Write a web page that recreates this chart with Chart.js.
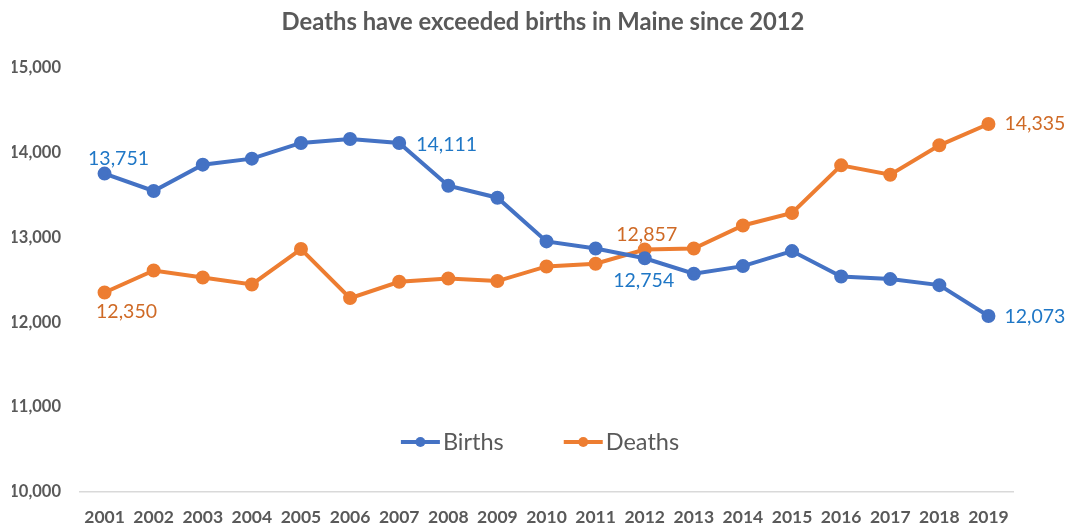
<!DOCTYPE html>
<html>
<head>
<meta charset="utf-8">
<script src="https://cdn.jsdelivr.net/npm/chart.js@4/dist/chart.umd.min.js"></script>
<style>
  html, body { margin: 0; padding: 0; background: #fff; overflow: hidden; }
  canvas { display: block; }
</style>
</head>
<body>
<canvas id="maine" width="1067" height="529"></canvas>
<script>
const years = ['2001', '2002', '2003', '2004', '2005', '2006', '2007', '2008', '2009', '2010',
    '2011', '2012', '2013', '2014', '2015', '2016', '2017', '2018', '2019'];
const births = [13751, 13546, 13856, 13927, 14112, 14159, 14111, 13608, 13467, 12952,
    12869, 12754, 12571, 12661, 12838, 12539, 12508, 12437, 12073];
const deaths = [12350, 12610, 12527, 12445, 12862, 12284, 12476, 12515, 12485, 12657,
    12689, 12857, 12869, 13140, 13287, 13848, 13738, 14084, 14335];
const yTicks = [10000, 11000, 12000, 13000, 14000, 15000];

// which points carry a value label
const birthLabelIdx = [0, 6, 11, 18];
const deathLabelIdx = [0, 11, 18];

const FONT = 'Lato, "Open Sans", sans-serif';

const valueLabels = {
    id: 'valueLabels',
    afterDatasetsDraw(chart) {
        const c = chart.ctx;
        // offset of the label centre from its point, per dataset and index
        const nudge = {
            0: { 0: [14, -15, 'center'], 6: [17, 2, 'left'], 11: [-1, 23, 'center'], 18: [16, 1, 'left'] },
            1: { 0: [22, 19, 'center'], 11: [2, -15, 'center'], 18: [16, 0, 'left'] }
        };
        const sets = [
            { ds: 0, list: birthLabelIdx, color: '#1F77C6' },
            { ds: 1, list: deathLabelIdx, color: '#CF6A26' }
        ];
        c.save();
        c.font = '19.5px ' + FONT;
        c.textBaseline = 'middle';
        sets.forEach(s => {
            const meta = chart.getDatasetMeta(s.ds);
            const data = chart.data.datasets[s.ds].data;
            c.fillStyle = s.color;
            s.list.forEach(i => {
                const pt = meta.data[i];
                const [dx, dy, align] = nudge[s.ds][i];
                c.textAlign = align;
                c.fillText(data[i].toLocaleString('en-US'), pt.x + dx, pt.y + dy);
            });
        });
        c.restore();
    }
};

// legend drawn inside the plot, under the lines
const innerLegend = {
    id: 'innerLegend',
    afterDraw(chart) {
        const c = chart.ctx;
        const area = chart.chartArea;
        const y = area.top + (area.bottom - area.top) * 0.882;
        const cx = (area.left + area.right) / 2 - 6.5;
        const items = chart.data.datasets.map(d => ({ label: d.label, color: d.borderColor }));
        c.save();
        c.font = '23.5px ' + FONT;
        c.textBaseline = 'middle';
        c.textAlign = 'left';
        const lineW = 39, gap = 3, between = 60;
        const widths = items.map(it => lineW + gap + c.measureText(it.label).width);
        const total = widths.reduce((a, b) => a + b, 0) + between * (items.length - 1);
        let x = cx - total / 2;
        items.forEach((it, k) => {
            c.strokeStyle = it.color;
            c.lineWidth = 4;
            c.beginPath();
            c.moveTo(x, y);
            c.lineTo(x + lineW, y);
            c.stroke();
            c.fillStyle = it.color;
            c.beginPath();
            c.arc(x + lineW / 2, y, 5, 0, Math.PI * 2);
            c.fill();
            c.fillStyle = '#595959';
            c.fillText(it.label, x + lineW + gap, y + 1);
            x += widths[k] + between;
        });
        c.restore();
    }
};

// the title in the original sits a bit right of the page centre
const titleShift = {
    id: 'titleShift',
    afterLayout(chart) {
        const t = chart.titleBlock;
        if (t) { t.left = 19; t.right = chart.width; }
    }
};

(function () {
    const ctx = document.getElementById('maine');
    new Chart(ctx, {
        type: 'line',
        data: {
            labels: years,
            datasets: [{
                label: 'Births',
                data: births,
                borderColor: '#4472C4',
                backgroundColor: '#4472C4',
                borderWidth: 4,
                pointRadius: 5,
                pointHoverRadius: 5,
                tension: 0,
            },
            {
                label: 'Deaths',
                data: deaths,
                borderColor: '#ED7D31',
                backgroundColor: '#ED7D31',
                borderWidth: 4,
                pointRadius: 5,
                pointHoverRadius: 5,
                tension: 0,
            }]
        },
        options: {
            responsive: false,
            animation: false,
            layout: {
                padding: { top: 4, right: 54, left: 12, bottom: 0 }
            },
            scales: {
                x: {
                    offset: true,
                    afterFit: axis => { axis.height = 37; },
                    grid: { display: false, drawTicks: false },
                    border: { display: true, color: '#D9D9D9', width: 1.5 },
                    ticks: {
                        color: '#595959',
                        padding: 15,
                        maxRotation: 0,
                        autoSkip: false,
                        font: { family: FONT, size: 17.5, weight: 'bold' }
                    }
                },
                y: {
                    min: yTicks[0],
                    max: yTicks[yTicks.length - 1],
                    afterBuildTicks: axis => { axis.ticks = yTicks.map(v => ({ value: v })); },
                    afterFit: axis => { axis.width = 68; },
                    grid: { display: false, drawTicks: false },
                    border: { display: false },
                    ticks: {
                        color: '#595959',
                        padding: 19,
                        font: { family: FONT, size: 16.5, weight: 'bold' },
                        callback: v => v.toLocaleString('en-US')
                    }
                }
            },
            plugins: {
                legend: { display: false },
                tooltip: { enabled: false },
                title: {
                    display: true,
                    text: 'Deaths have exceeded births in Maine since 2012',
                    color: '#595959',
                    font: { family: FONT, size: 23.8, weight: 'bold' },
                    padding: { top: 4, bottom: 31 }
                }
            }
        },
        plugins: [valueLabels, innerLegend, titleShift]
    });
})();
</script>
</body>
</html>
